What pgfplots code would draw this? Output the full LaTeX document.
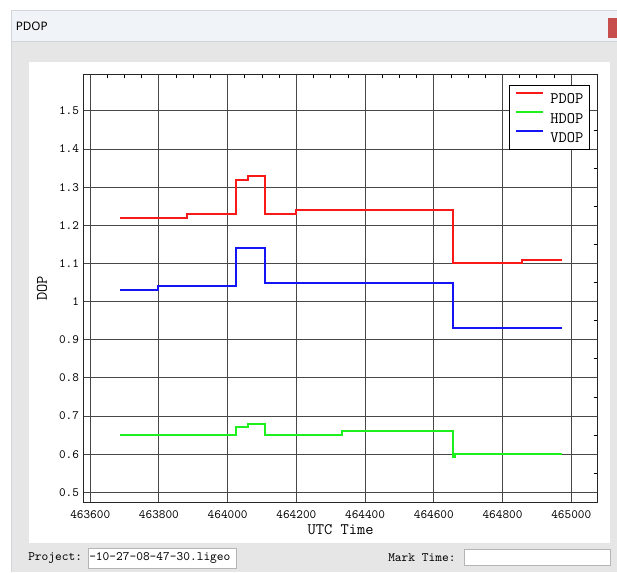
\documentclass[border=0pt]{standalone}
\usepackage{pgfplots}
\pgfplotsset{compat=1.18}
\usepackage{fontspec}
\setmainfont{Liberation Serif}
\newfontfamily\sansf{Noto Sans}

\definecolor{bodygray}{RGB}{230,230,230}
\definecolor{titlebar}{RGB}{240,243,247}
\definecolor{barline}{RGB}{210,214,219}
\definecolor{closered}{RGB}{200,78,78}
\definecolor{boxline}{RGB}{180,180,180}
\definecolor{pdopc}{RGB}{250,25,25}
\definecolor{hdopc}{RGB}{30,240,30}
\definecolor{vdopc}{RGB}{20,20,245}

\begin{document}
\begin{tikzpicture}
  % window around the plot, in screen pixels (1px = 0.75pt)
  \begin{scope}[x=0.75pt, y=-0.75pt, shift={(0pt,429pt)}]
    \useasboundingbox (0,0) rectangle (617,572);
    \fill[white] (0,0) rectangle (617,572);
    \fill[bodygray] (11,42) rectangle (617,572);
    \fill[titlebar] (11,10) rectangle (617,42);
    \draw[barline, line width=0.75pt] (11,572) -- (11,10.4) -- (617,10.4);
    \draw[barline, line width=0.75pt] (11,42) -- (617,42);
    \fill[closered] (607.7,18.3) rectangle (617,38.3);
    \node[anchor=west, inner sep=0pt, font=\sansf\fontsize{8.8}{10}\selectfont] at (15.5,26.5) {PDOP};
    \fill[white] (29,61.7) rectangle (610,542.7);
    \node[anchor=west, inner sep=0pt, font=\ttfamily\fontsize{9.6}{11}\selectfont] at (28,558) {Project:};
    \draw[boxline, fill=white, line width=0.75pt] (88,548) rectangle (236,568);
    \node[anchor=west, inner sep=0pt, font=\ttfamily\fontsize{9.6}{11}\selectfont] at (89,558) {-10-27-08-47-30.ligeo};
    \node[anchor=west, inner sep=0pt, font=\ttfamily\fontsize{9.6}{11}\selectfont] at (388,558) {Mark Time:};
    \draw[boxline, fill=white, line width=0.75pt] (464.3,549.3) rectangle (610,565.7);
  \end{scope}

  \begin{axis}[
      at={(62.775pt,51.975pt)}, anchor=south west,
      scale only axis,
      width=385.5pt, height=321.3pt,
      xmin=463581, xmax=465077,
      ymin=0.4727, ymax=1.596,
      xtick={463600,463800,464000,464200,464400,464600,464800,465000},
      ytick={0.5,0.6,0.7,0.8,0.9,1,1.1,1.2,1.3,1.4,1.5},
      scaled x ticks=false,
      /pgf/number format/assume math mode=true,
      xticklabel style={/pgf/number format/fixed,
        /pgf/number format/precision=0,
        /pgf/number format/set thousands separator={},
        yshift=-2.3pt},
      minor x tick num=3,
      minor y tick num=1,
      xtick pos=right, xticklabel pos=left,
      ytick pos=right, yticklabel pos=left,
      tick align=inside,
      major tick length=0pt,
      minor tick length=3pt,
      tick style={black, line width=0.6pt},
      grid=major,
      major grid style={black!72, line width=0.75pt},
      axis line style={black!85, line width=0.75pt},
      ticklabel style={font=\ttfamily\fontsize{9.5}{11}\selectfont},
      xlabel={UTC Time},
      ylabel={DOP},
      xlabel style={font=\ttfamily\fontsize{12}{14}\selectfont,
        at={(axis description cs:0.5,-0.0637)}, anchor=center},
      ylabel style={font=\ttfamily\fontsize{12}{14}\selectfont,
        at={(axis description cs:-0.0811,0.5)}, anchor=center},
      legend style={at={(0.8274,0.975)}, anchor=north west,
        draw=black, line width=0.75pt, fill=white,
        font=\ttfamily\fontsize{12}{14}\selectfont,
        inner xsep=4.5pt, inner ysep=2.4pt,
        row sep=0pt, column sep=4.8pt,
        nodes={inner sep=0pt, text height=11.3pt, text depth=3.2pt}},
      legend cell align=left,
      legend image code/.code={\draw[#1, line width=1.3pt] (0pt,4.3pt) -- (20pt,4.3pt);},
    ]

    \addplot[const plot, color=pdopc, line width=1.5pt] coordinates {
      (463686,1.22) (463883,1.23) (464023,1.32) (464060,1.33)
      (464110,1.23) (464198,1.24) (464657,1.10) (464858,1.11)
      (464972,1.11)
    };
    \addlegendentry{PDOP}

    \addplot[const plot, color=hdopc, line width=1.5pt] coordinates {
      (463686,0.65) (464023,0.67) (464060,0.68) (464110,0.65)
      (464334,0.66) (464655,0.593) (464661,0.60) (464972,0.60)
    };
    \addlegendentry{HDOP}

    \addplot[const plot, color=vdopc, line width=1.5pt] coordinates {
      (463686,1.03) (463796,1.04) (464024,1.14) (464110,1.05)
      (464657,0.93) (464972,0.93)
    };
    \addlegendentry{VDOP}

  \end{axis}
\end{tikzpicture}
\end{document}
